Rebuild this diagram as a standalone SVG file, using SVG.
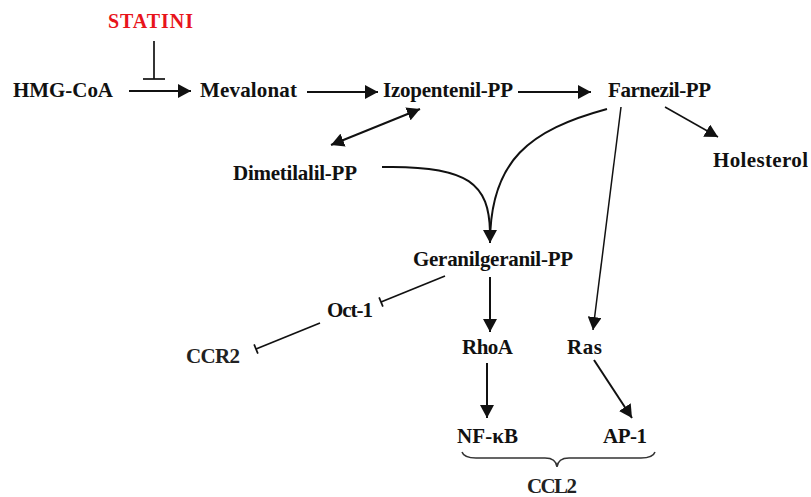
<svg xmlns="http://www.w3.org/2000/svg" width="811" height="497" viewBox="0 0 811 497">
<style>
.t{font-family:"Liberation Serif","Times New Roman",serif;font-weight:bold;font-size:21px;fill:#111;}
.n{fill:#222;}
.c{fill:none;stroke:#111;stroke-width:2;}
.thin{stroke-width:1.5;}
.inh{fill:none;stroke:#111;stroke-width:1.7;}
</style>
<defs>
<marker id="ah" viewBox="0 0 13 14" refX="13" refY="7" markerWidth="13" markerHeight="14" markerUnits="userSpaceOnUse" orient="auto-start-reverse">
<path d="M0,0 L13,7 L0,14 z" fill="#111"/>
</marker>
</defs>
<rect width="811" height="497" fill="#fff"/>
<g id="connectors">
<line class="c" x1="129" y1="91" x2="191" y2="91" marker-end="url(#ah)"/>
<line class="inh" x1="154" y1="41" x2="154" y2="79"/>
<line class="inh" x1="143" y1="79" x2="165" y2="79"/>
<line class="c" x1="307" y1="92" x2="378" y2="92" marker-end="url(#ah)"/>
<line class="c" x1="518" y1="92" x2="591" y2="92" marker-end="url(#ah)"/>
<line class="c" x1="331" y1="145" x2="420" y2="109" marker-start="url(#ah)" marker-end="url(#ah)"/>
<line class="c thin" x1="665" y1="107" x2="718" y2="137" marker-end="url(#ah)"/>
<line class="c thin" x1="621" y1="107" x2="593" y2="330" marker-end="url(#ah)"/>
<path class="c" d="M607,109 C530,130 490,160 490,243" marker-end="url(#ah)"/>
<path class="c" d="M382,167 C470,165 489,185 490,232"/>
<line class="inh" x1="445" y1="276" x2="381" y2="302"/>
<line class="inh" x1="382.9" y1="306.6" x2="379.1" y2="297.4"/>
<line class="inh" x1="320" y1="323" x2="256" y2="349"/>
<line class="inh" x1="257.9" y1="353.6" x2="254.1" y2="344.4"/>
<line class="c" x1="490" y1="277" x2="490" y2="332" marker-end="url(#ah)"/>
<line class="c" x1="487" y1="363" x2="487" y2="418" marker-end="url(#ah)"/>
<line class="c" x1="594" y1="360" x2="632" y2="418" marker-end="url(#ah)"/>
<path fill="none" stroke="#333" stroke-width="1.5" d="M462,452 Q464,458 476,458 L545,458 Q556,458 557,467 Q558,458 569,458 L641,458 Q653,458 655,452"/>
</g>
<g id="statini"><text class="t" x="108" y="28" style="fill:#e8141b;font-size:20px" textLength="85">STATINI</text></g>
<g id="hmgcoa"><text class="t" x="13" y="97" textLength="100">HMG-CoA</text></g>
<g id="mevalonat"><text class="t" x="200" y="97" textLength="97">Mevalonat</text></g>
<g id="izopentenil"><text class="t" x="383" y="97" textLength="130">Izopentenil-PP</text></g>
<g id="farnezil"><text class="t" x="608" y="97" textLength="103">Farnezil-PP</text></g>
<g id="holesterol"><text class="t" x="713" y="167" textLength="95">Holesterol</text></g>
<g id="dimetilalil"><text class="t" x="233" y="180" textLength="124">Dimetilalil-PP</text></g>
<g id="geranilgeranil"><text class="t" x="413" y="266" textLength="160">Geranilgeranil-PP</text></g>
<g id="oct1"><text class="t" x="327" y="317" textLength="46">Oct-1</text></g>
<g id="ccr2"><text class="t n" x="186" y="363" textLength="54">CCR2</text></g>
<g id="rhoa"><text class="t" x="462" y="354" textLength="51">RhoA</text></g>
<g id="ras"><text class="t" x="567" y="354" textLength="35">Ras</text></g>
<g id="nfkb"><text class="t" x="457" y="443" textLength="61">NF-κB</text></g>
<g id="ap1"><text class="t" x="603" y="443" textLength="44">AP-1</text></g>
<g id="ccl2"><text class="t n" x="527" y="493" textLength="50">CCL2</text></g>
</svg>
